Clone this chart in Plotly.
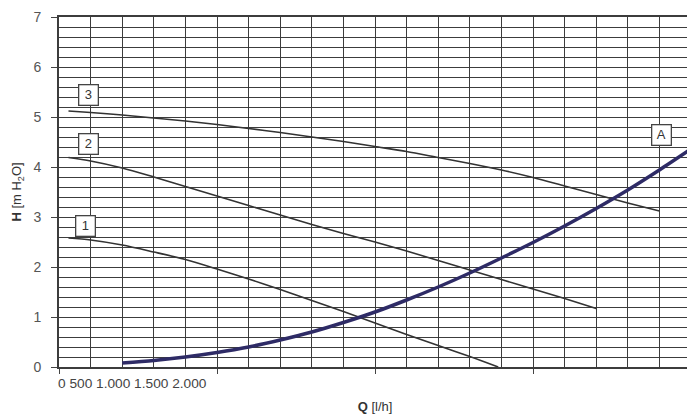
import plotly.graph_objects as go

# flow in l/h, head in m H2O
q_1 = [150, 500, 1000, 1500, 2000, 2500, 3000, 3500, 4000, 4500, 5000, 5500, 6000, 6500, 6950]
h_1 = [2.58, 2.54, 2.44, 2.30, 2.15, 1.96, 1.76, 1.55, 1.33, 1.11, 0.88, 0.65, 0.43, 0.21, 0.0]

q_2 = [150, 500, 1000, 1500, 2000, 2500, 3000, 3500, 4000, 4500, 5000, 5500, 6000, 6500, 7000, 7500, 8000, 8500]
h_2 = [4.19, 4.12, 3.98, 3.80, 3.61, 3.42, 3.23, 3.04, 2.85, 2.67, 2.50, 2.32, 2.13, 1.94, 1.75, 1.56, 1.37, 1.17]

q_3 = [150, 500, 1000, 1500, 2000, 2500, 3000, 3500, 4000, 4500, 5000, 5500, 6000, 6500, 7000, 7500, 8000, 8500, 9000, 9500]
h_3 = [5.12, 5.09, 5.04, 4.98, 4.92, 4.85, 4.77, 4.69, 4.60, 4.51, 4.41, 4.31, 4.19, 4.07, 3.94, 3.79, 3.62, 3.45, 3.28, 3.12]

# system curve A
q_a = [1000, 1500, 2000, 2500, 3000, 3500, 4000, 4500, 5000, 5500, 6000, 6500, 7000, 7500, 8000, 8500, 9000, 9500, 10000]
h_a = [0.08, 0.13, 0.20, 0.29, 0.40, 0.54, 0.70, 0.89, 1.10, 1.34, 1.60, 1.88, 2.18, 2.49, 2.82, 3.17, 3.54, 3.94, 4.36]

curve_labels = ["1", "2", "3", "A"]
label_q = [420, 460, 460, 9540]
label_h = [2.82, 4.46, 5.44, 4.64]

x_tick_text = "0 500 1.000 1.500 2.000"

grid = "#3c3c3c"

fig = go.Figure()
for q, h in [(q_1, h_1), (q_2, h_2), (q_3, h_3)]:
    fig.add_trace(go.Scatter(x=q, y=h, mode="lines", line=dict(color="#333333", width=1.6, shape="spline", smoothing=0.8),
                             showlegend=False, hoverinfo="x+y"))
fig.add_trace(go.Scatter(x=q_a, y=h_a, mode="lines", line=dict(color="#2e2b66", width=3.5, shape="spline", smoothing=0.8),
                         showlegend=False, hoverinfo="x+y", cliponaxis=False))

# label boxes
for txt, q, h in zip(curve_labels, label_q, label_h):
    fig.add_annotation(x=q, y=h, text=txt, showarrow=False, font=dict(size=13, color="#333333"),
                       width=14, height=15, align="center", valign="middle",
                       bgcolor="white", bordercolor="#444444", borderwidth=1.3, borderpad=2)

# squeezed tick labels at the start of the axis
fig.add_annotation(x=0, y=0, xref="paper", yref="paper", yanchor="top", xanchor="left", xshift=-3, yshift=-7,
                   text=x_tick_text, showarrow=False, font=dict(size=13.7, color="#444444"))

fig.update_xaxes(range=[0, 10000], dtick=2500, showticklabels=False, ticks="outside", ticklen=5,
                 tickcolor="#444444", showgrid=True, gridcolor=grid, gridwidth=1.4,
                 minor=dict(dtick=500, showgrid=True, gridcolor=grid, gridwidth=1.4),
                 showline=True, linecolor=grid, linewidth=1.6, mirror=True, zeroline=False, automargin=False,
                 title=dict(text="<b>Q</b> [l/h]", font=dict(size=13, color="#333333"), standoff=29))
fig.update_yaxes(range=[0, 7], dtick=1, ticks="outside", ticklen=6, tickcolor="#444444", ticklabelstandoff=7,
                 tickfont=dict(size=14, color="#555555"), showgrid=True, gridcolor=grid, gridwidth=1.4,
                 minor=dict(dtick=0.2, showgrid=True, gridcolor=grid, gridwidth=1.4),
                 showline=True, linecolor=grid, linewidth=1.6, mirror=True, zeroline=False, automargin=False,
                 title=dict(text="<b>H</b> [m H<sub>2</sub>O]", font=dict(size=13, color="#333333"), standoff=9))

# page body adds an 8 px offset, so the figure is sized to land on the reference frame
fig.update_layout(width=687, height=410, margin=dict(l=51, r=4, t=9, b=51),
                  plot_bgcolor="white", paper_bgcolor="white",
                  font=dict(family="Liberation Sans, Arial, sans-serif"))

fig.write_html("out.html")
